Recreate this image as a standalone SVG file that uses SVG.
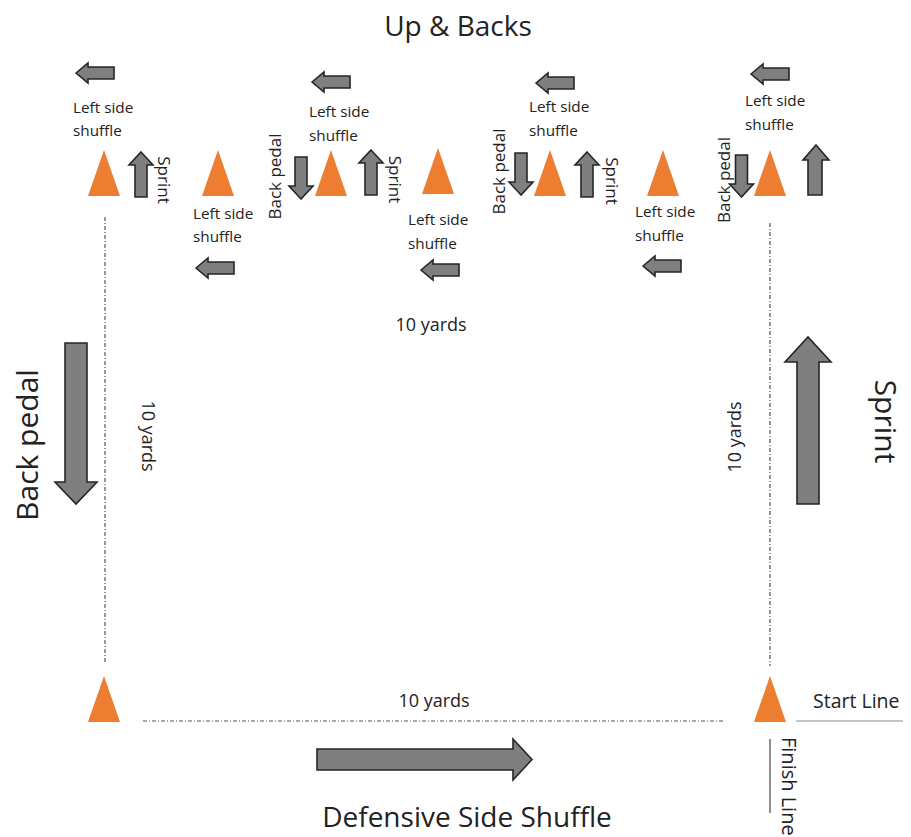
<svg xmlns="http://www.w3.org/2000/svg" width="911" height="837" viewBox="0 0 911 837">
<style>
text{font-family:"Open Sans","Liberation Sans",sans-serif;fill:#222}
.s{font-size:15.3px}
.v{font-size:17px}
.y{font-size:18px}
.big{font-size:30px}
.cone{fill:#ED7D31}
.arr{fill:#7f7f7f;stroke:#262626;stroke-width:1.6;stroke-linejoin:miter}
.dd{stroke:#555;stroke-width:1.2;stroke-dasharray:4 2 1 2;fill:none}
</style>
<defs>
<path id="la" d="M0,0 L12,-10 L12,-6 L38,-6 L38,6 L12,6 L12,10 Z"/>
<path id="ua" d="M0,0 L12,13 L6,13 L6,45 L-6,45 L-6,13 L-12,13 Z"/>
<path id="da" d="M0,0 L-12,-13 L-6,-13 L-6,-42 L6,-42 L6,-13 L12,-13 Z"/>
<polygon id="cn" points="0,0 16,-46 32,0"/>
</defs>
<text x="458" y="36" text-anchor="middle" style="font-size:28px">Up &amp; Backs</text>
<g id="connectors">
<line class="dd" x1="105" y1="217" x2="105" y2="664"/>
<line class="dd" x1="770" y1="223" x2="770" y2="666"/>
<line class="dd" x1="143" y1="721" x2="723" y2="721"/>
<line x1="796" y1="721" x2="903" y2="721" stroke="#888" stroke-width="1.2"/>
<line x1="770" y1="739" x2="770" y2="813" stroke="#444" stroke-width="1.2"/>
</g>
<g id="cones">
<use href="#cn" class="cone" x="88" y="196"/>
<use href="#cn" class="cone" x="202" y="196"/>
<use href="#cn" class="cone" x="315" y="196"/>
<use href="#cn" class="cone" x="422" y="194"/>
<use href="#cn" class="cone" x="534" y="196"/>
<use href="#cn" class="cone" x="647" y="196"/>
<use href="#cn" class="cone" x="754" y="196"/>
<use href="#cn" class="cone" x="88" y="722"/>
<use href="#cn" class="cone" x="754" y="722"/>
</g>
<g id="small-arrows">
<use href="#la" class="arr" x="76" y="73"/>
<use href="#la" class="arr" x="196" y="268"/>
<use href="#la" class="arr" x="312" y="82"/>
<use href="#la" class="arr" x="421" y="270"/>
<use href="#la" class="arr" x="536" y="83"/>
<use href="#la" class="arr" x="643" y="266"/>
<use href="#la" class="arr" x="751" y="74"/>
<use href="#ua" class="arr" x="141" y="152"/>
<use href="#ua" class="arr" x="371" y="150"/>
<use href="#ua" class="arr" x="587" y="152"/>
<path class="arr" d="M816,145 L829,160 L822,160 L822,195 L808,195 L808,160 L803,160 Z"/>
<use href="#da" class="arr" x="301" y="199"/>
<use href="#da" class="arr" x="521" y="195"/>
<use href="#da" class="arr" x="741.5" y="197"/>
</g>
<g id="big-arrows">
<path class="arr" d="M65,343 L87,343 L87,482 L97,482 L76,504 L55,482 L65,482 Z"/>
<path class="arr" d="M797,504 L819,504 L819,362 L831,362 L808,337 L785,362 L797,362 Z"/>
<path class="arr" d="M317,749 L513,749 L513,739 L532,759.5 L513,780 L513,770 L317,770 Z"/>
</g>
<g id="labels">
<text class="s" x="73" y="113">Left side<tspan x="73" y="136">shuffle</tspan></text>
<text class="s" x="193" y="219">Left side<tspan x="193" y="242">shuffle</tspan></text>
<text class="s" x="309" y="117">Left side<tspan x="309" y="141">shuffle</tspan></text>
<text class="s" x="408" y="225">Left side<tspan x="408" y="249">shuffle</tspan></text>
<text class="s" x="529" y="112">Left side<tspan x="529" y="136">shuffle</tspan></text>
<text class="s" x="635" y="217">Left side<tspan x="635" y="241">shuffle</tspan></text>
<text class="s" x="745" y="106">Left side<tspan x="745" y="130">shuffle</tspan></text>
<text class="v" text-anchor="middle" transform="translate(158,180) rotate(90)">Sprint</text>
<text class="v" text-anchor="middle" transform="translate(389,179.5) rotate(90)">Sprint</text>
<text class="v" text-anchor="middle" transform="translate(606,181) rotate(90)">Sprint</text>
<text class="v" text-anchor="middle" transform="translate(281,176.5) rotate(-90)">Back pedal</text>
<text class="v" text-anchor="middle" transform="translate(505,171.5) rotate(-90)">Back pedal</text>
<text class="v" text-anchor="middle" transform="translate(730,180) rotate(-90)">Back pedal</text>
<text class="y" x="431" y="331" text-anchor="middle">10 yards</text>
<text class="y" x="434" y="707" text-anchor="middle">10 yards</text>
<text class="y" text-anchor="middle" transform="translate(142,436) rotate(90)">10 yards</text>
<text class="y" text-anchor="middle" transform="translate(741,437) rotate(-90)">10 yards</text>
<text class="big" text-anchor="middle" transform="translate(38,445) rotate(-90)">Back pedal</text>
<text class="big" text-anchor="middle" transform="translate(875,421.5) rotate(90)">Sprint</text>
<text x="813" y="708" style="font-size:19.5px">Start Line</text>
<text style="font-size:20px" transform="translate(782,737) rotate(90)">Finish Line</text>
<text x="467" y="827" text-anchor="middle" style="font-size:28px">Defensive Side Shuffle</text>
</g>
</svg>
